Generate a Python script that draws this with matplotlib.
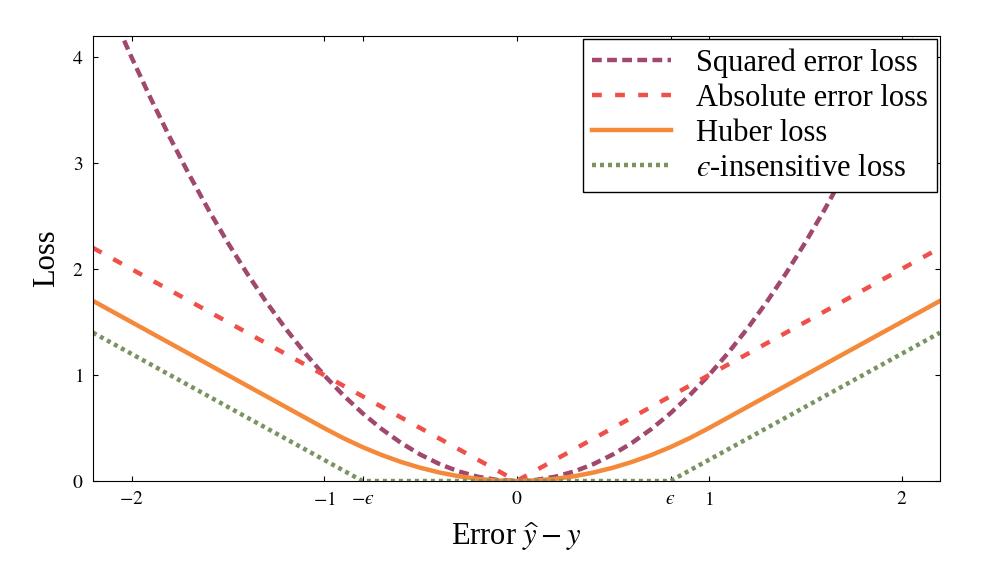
import matplotlib.pyplot as plt

plt.rcParams['font.family'] = ['Liberation Serif', 'DejaVu Serif']
plt.rcParams['mathtext.fontset'] = 'stix'

# right half of each curve, x = 0.0 .. 2.2 step 0.1 (curves are symmetric)
x_half = [0.0, 0.1, 0.2, 0.3, 0.4, 0.5, 0.6, 0.7, 0.8, 0.9, 1.0, 1.1,
          1.2, 1.3, 1.4, 1.5, 1.6, 1.7, 1.8, 1.9, 2.0, 2.1, 2.2]
squared_half = [0, 0.01, 0.04, 0.09, 0.16, 0.25, 0.36, 0.49, 0.64, 0.81, 1.0, 1.21,
                1.44, 1.69, 1.96, 2.25, 2.56, 2.89, 3.24, 3.61, 4.0, 4.41, 4.84]
huber_half = [0, 0.005, 0.02, 0.045, 0.08, 0.125, 0.18, 0.245, 0.32, 0.405, 0.5, 0.6,
              0.7, 0.8, 0.9, 1.0, 1.1, 1.2, 1.3, 1.4, 1.5, 1.6, 1.7]
abs_x = [-2.2, 0, 2.2]
abs_y = [2.2, 0, 2.2]
eps_x = [-2.2, -0.8, 0.8, 2.2]
eps_y = [1.4, 0, 0, 1.4]

x = [-v for v in x_half[::-1]] + x_half[1:]
squared = squared_half[::-1] + squared_half[1:]
huber = huber_half[::-1] + huber_half[1:]

EPS = '\u03f5'

fig = plt.figure(figsize=(10.05, 5.86), dpi=100)
ax = fig.add_axes([93 / 1005, 1 - 481 / 586, 847 / 1005, 445 / 586])

lw = 3.2
ax.plot(x, squared, color='#A0486E', lw=lw, dashes=(2.2, 1.2), label='Squared error loss')
ax.plot(abs_x, abs_y, color='#F0504A', lw=lw, dashes=(2.2, 3.0), label='Absolute error loss')
ax.plot(x, huber, color='#F4893A', lw=lw, label='Huber loss')
ax.plot(eps_x, eps_y, color='#7A9461', lw=lw, dashes=(0.9, 0.9), label='$' + EPS + '$-insensitive loss')

ax.set_xlim(-2.2, 2.2)
ax.set_ylim(0, 4.2)
ax.set_xticks([-2, -1, -0.8, 0, 0.8, 1, 2])
ax.set_xticklabels(['$-2$', '$-1$', '$-' + EPS + '$', '$0$', '$' + EPS + '$', '$1$', '$2$'])
ax.set_yticks([0, 1, 2, 3, 4])
ax.set_yticklabels(['$0$', '$1$', '$2$', '$3$', '$4$'])
ax.tick_params(direction='in', top=True, right=True, labelsize=14, pad=7)
ax.set_xlabel(r'Error $\widehat{y}-y$', fontsize=22, labelpad=8)
ax.set_ylabel('Loss', fontsize=22, labelpad=8)

leg = ax.legend(loc='upper right', fontsize=22, frameon=True, fancybox=False,
                edgecolor='black', facecolor='white', framealpha=1,
                handlelength=2.6, borderaxespad=0.1, labelspacing=0.2,
                borderpad=0.3)
leg.get_frame().set_linewidth(1.0)

fig.savefig('out.png', dpi=100)
